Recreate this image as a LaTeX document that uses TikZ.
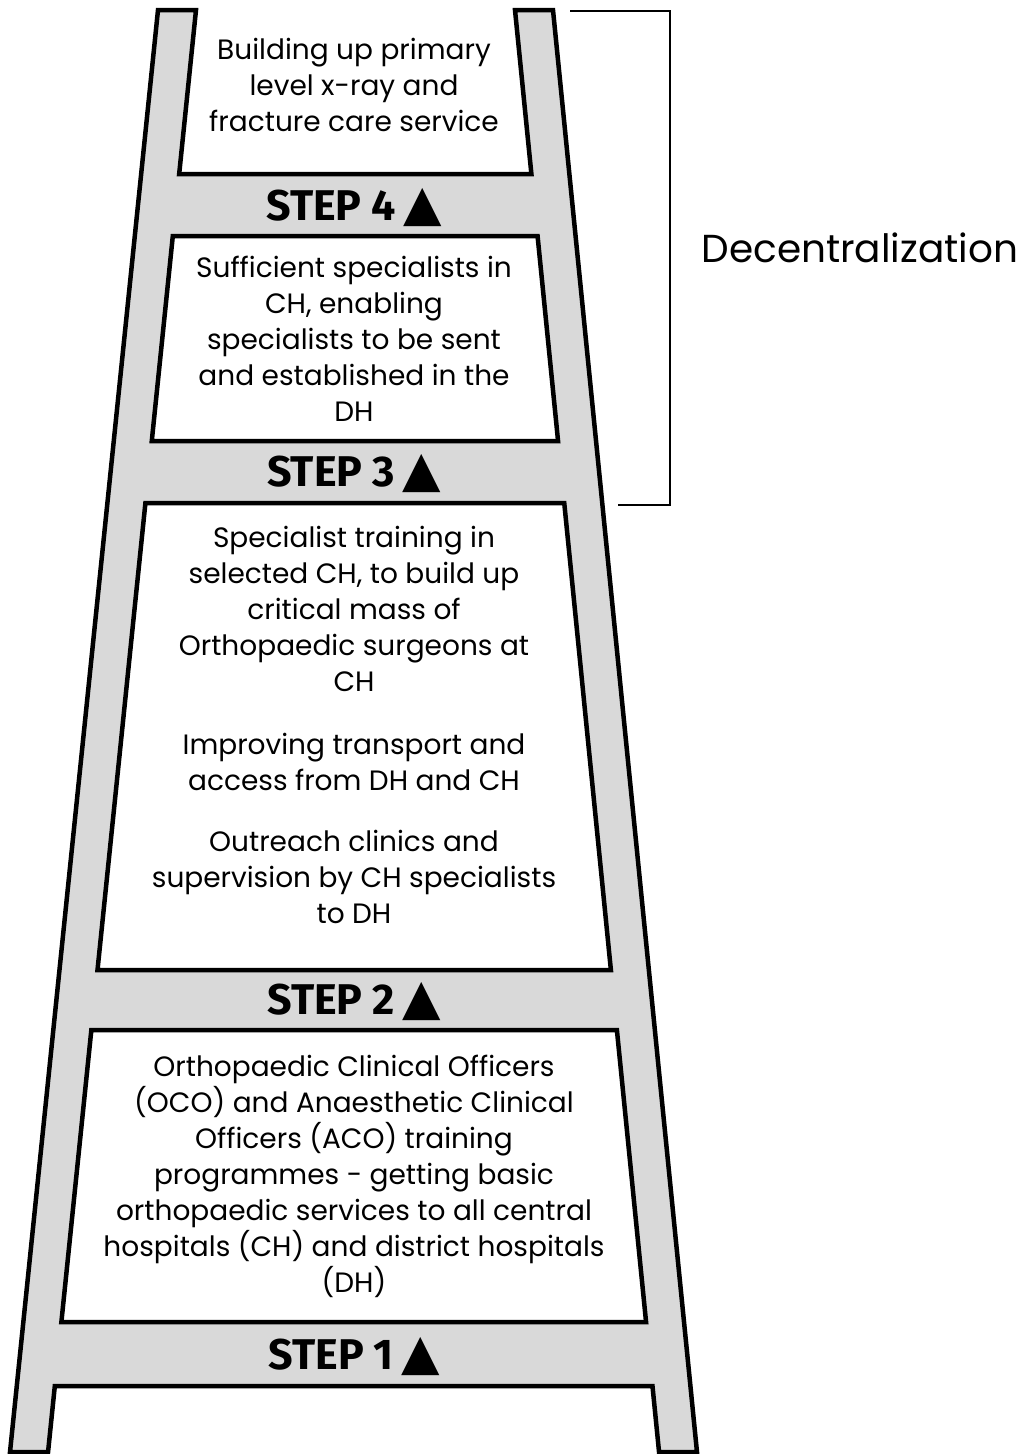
\documentclass[tikz,border=0pt]{standalone}
\usepackage{fontspec}
\newfontfamily\gothic{Poppins}
\newfontfamily\stepfont{Fira Sans}
\newfontfamily\symb{DejaVu Sans}
\definecolor{rail}{HTML}{D9D9D9}
\tikzset{
  ladder/.style={fill=rail, draw=black, line width=4.5pt, line join=miter},
  hole/.style={fill=white, draw=black, line width=4.5pt},
  body/.style={align=center, inner sep=0pt, font=\gothic\fontsize{28}{36}\selectfont},
  steplabel/.style={inner sep=0pt, font=\stepfont\bfseries\fontsize{43}{43}\selectfont},
}
\newcommand\steptext[1]{STEP #1\,{\symb\fontsize{50}{50}\selectfont ▲}}

\begin{document}
\begin{tikzpicture}[x=1pt, y=-1pt,
  declare function={lin(\y)=196-0.1026*(\y-10); rin(\y)=515+0.0999*(\y-10);}]

  \useasboundingbox (0,0) rectangle (1026,1454);

  % rails and rungs, open at top and bottom
  \draw[ladder] (158,10) -- ({lin(10)},10) -- ({lin(174)},174) -- ({rin(174)},174)
    -- ({rin(10)},10) -- (553,10) -- (697,1452) -- ({rin(1452)},1452)
    -- ({rin(1386)},1386) -- ({lin(1386)},1386) -- ({lin(1452)},1452) -- (10,1452) -- cycle;

  \foreach \t/\b in {236/441, 503/970, 1030/1322}
    \draw[hole] ({lin(\t)},\t) -- ({rin(\t)},\t) -- ({rin(\b)},\b) -- ({lin(\b)},\b) -- cycle;

  \node[body] (xray) at (354,85) {Building up primary\\level x-ray and\\fracture care service};
  \node[steplabel] (step4) at (354,208) {\steptext{4}};

  \node[body] (suff) at (354,339) {Sufficient specialists in\\CH, enabling\\specialists to be sent\\and established in the\\DH};
  \node[steplabel] (step3) at (354,474) {\steptext{3}};

  \node[body] (train) at (354,725) {Specialist training in\\selected CH, to build up\\critical mass of\\Orthopaedic surgeons at\\CH\\[27pt]
    Improving transport and\\access from DH and CH\\[25pt]
    Outreach clinics and\\supervision by CH specialists\\to DH};
  \node[steplabel] (step2) at (354,1001) {\steptext{2}};

  \node[body] (oco) at (354,1176) {Orthopaedic Clinical Officers\\(OCO) and Anaesthetic Clinical\\Officers (ACO) training\\programmes - getting basic\\orthopaedic services to all central\\hospitals (CH) and district hospitals\\(DH)};
  \node[steplabel] (step1) at (354,1356) {\steptext{1}};

  % bracket
  \coordinate (brtop) at (570,11);
  \coordinate (brbot) at (618,505);
  \draw[line width=2.5pt] (brtop) -- (670,11) -- (670,505) -- (brbot);
  \node[font=\gothic\fontsize{39}{39}\selectfont] (decent) at (860,248) {Decentralization};

\end{tikzpicture}
\end{document}
